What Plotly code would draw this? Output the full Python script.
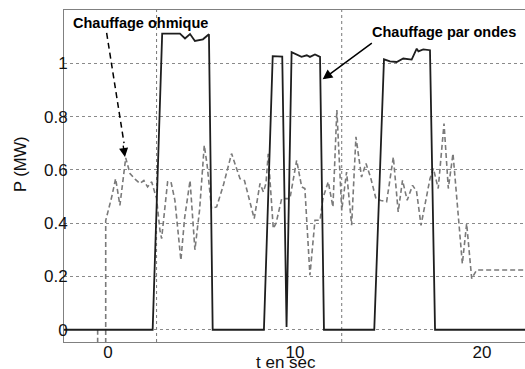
import plotly.graph_objects as go

# ---- data ----
# solid (wave heating power)
t_ondes = [-2.35, 2.39, 2.90, 3.85, 4.12, 4.39, 4.65, 5.08, 5.40, 5.60,
           8.34, 8.81, 9.32, 9.55,
           9.82, 10.35, 10.63, 10.80, 11.07, 11.34, 11.55,
           14.24, 14.76, 15.08, 15.44, 15.79, 16.24, 16.51, 16.60, 16.86, 17.22, 17.49, 22.5]
p_ondes = [0.0, 0.0, 1.111, 1.111, 1.093, 1.110, 1.084, 1.090, 1.109, 0.0,
           0.0, 1.027, 1.025, 0.01,
           1.042, 1.024, 1.030, 1.024, 1.033, 1.024, 0.0,
           0.0, 1.015, 1.007, 1.005, 1.018, 1.014, 1.055, 1.045, 1.052, 1.049, 0.0, 0.0]

# dashed (ohmic heating power)
t_ohm = [-0.55, -0.55, -0.12, -0.12, 0.20, 0.41, 0.64, 0.95, 1.18, 1.45, 1.71, 1.92,
         2.12, 2.34, 2.60, 2.78, 2.87, 2.98, 3.19, 3.37, 3.58, 3.90, 4.10, 4.39,
         4.65, 4.90, 5.15, 5.30, 5.54, 5.81, 6.17, 6.61, 7.06, 7.30, 7.82, 8.13,
         8.31, 8.45, 8.57, 8.84, 8.99, 9.29, 9.73, 10.09, 10.36, 10.53, 10.80, 11.07,
         11.34, 11.51, 11.78, 12.03, 12.24, 12.50, 12.76, 13.03, 13.26, 13.56, 13.80,
         14.05, 14.33, 14.60, 14.90, 15.26, 15.52, 15.75, 16.00, 16.29, 16.50, 16.74,
         17.22, 17.40, 17.66, 17.97, 18.20, 18.45, 18.95, 19.18, 19.45, 19.71, 22.5]
p_ohm = [0.0, -0.1, -0.1, 0.41, 0.498, 0.567, 0.467, 0.645, 0.586, 0.565, 0.549, 0.560,
         0.536, 0.555, 0.492, 0.373, 0.342, 0.420, 0.555, 0.555, 0.486, 0.261, 0.420, 0.560,
         0.300, 0.450, 0.692, 0.620, 0.455, 0.461, 0.542, 0.661, 0.567, 0.560, 0.417, 0.549,
         0.517, 0.549, 0.660, 0.380, 0.400, 0.492, 0.492, 0.636, 0.536, 0.530, 0.205, 0.411,
         0.411, 0.498, 0.555, 0.461, 0.825, 0.448, 0.592, 0.392, 0.724, 0.573, 0.624,
         0.570, 0.492, 0.485, 0.480, 0.648, 0.442, 0.561, 0.486, 0.542, 0.520, 0.392,
         0.567, 0.605, 0.530, 0.774, 0.530, 0.661, 0.248, 0.398, 0.192, 0.224, 0.224]

x_ticks = [0, 10, 20]
x_ticklabels = ["0", "10", "20"]
y_ticks = [0, 0.2, 0.4, 0.6, 0.8, 1.0]
y_ticklabels = ["0", "0.2", "0.4", "0.6", "0.8", "1"]
ref_lines_t = [2.6, 12.5]

FONT = "Arial, Liberation Sans, Helvetica, sans-serif"

fig = go.Figure()
fig.add_trace(go.Scatter(x=t_ohm, y=p_ohm, mode="lines",
                         line=dict(color="#7a7a7a", width=1.6, dash="5px,3px"),
                         showlegend=False, hoverinfo="skip"))
fig.add_trace(go.Scatter(x=t_ondes, y=p_ondes, mode="lines",
                         line=dict(color="#1e1e1e", width=1.8),
                         showlegend=False, hoverinfo="skip"))

shapes = []
for xv in ref_lines_t:
    shapes.append(dict(type="line", xref="x", yref="paper", x0=xv, x1=xv, y0=0, y1=1,
                       line=dict(color="#777", width=1, dash="dot"), layer="below"))
# dashed arrow shaft for "Chauffage ohmique"
shapes.append(dict(type="line", xref="x", yref="y", x0=-0.07, y0=1.114, x1=0.86, y1=0.70,
                   line=dict(color="black", width=1.5, dash="6px,4px")))

annotations = [
    dict(x=-1.99, y=1.151, xref="x", yref="y", text="<b>Chauffage ohmique</b>",
         showarrow=False, xanchor="left", yanchor="middle",
         font=dict(family=FONT, size=14.5, color="black")),
    dict(x=14.01, y=1.118, xref="x", yref="y", text="<b>Chauffage par ondes</b>",
         showarrow=False, xanchor="left", yanchor="middle",
         font=dict(family=FONT, size=14.5, color="black")),
    # arrow head for ohmic
    dict(x=0.91, y=0.648, xref="x", yref="y", text="", showarrow=True,
         ax=-2, ay=-13, arrowhead=2, arrowsize=1.3, arrowwidth=1.4, arrowcolor="black",
         standoff=0),
    # solid arrow for waves
    dict(x=11.48, y=0.94, xref="x", yref="y", text="", showarrow=True,
         axref="x", ayref="y", ax=14.19, ay=1.08,
         arrowhead=2, arrowsize=1.3, arrowwidth=1.5, arrowcolor="black", standoff=0),
    dict(x=-0.0955, y=0.536, xref="paper", yref="paper", text="P (MW)", textangle=-90,
         showarrow=False, xanchor="center", yanchor="middle",
         font=dict(family=FONT, size=16.5, color="#111")),
    dict(x=0.4816, y=-0.061, xref="paper", yref="paper", text="t en sec",
         showarrow=False, xanchor="center", yanchor="middle",
         font=dict(family=FONT, size=17, color="#111")),
]

fig.update_layout(
    width=525, height=369,
    margin=dict(l=64, r=0, t=10, b=27, autoexpand=False),
    paper_bgcolor="white", plot_bgcolor="white",
    font=dict(family=FONT, size=17, color="#111"),
    shapes=shapes, annotations=annotations,
    xaxis=dict(range=[-2.35, 22.3], showgrid=False, zeroline=False,
               showline=True, linecolor="#808080", linewidth=1, mirror=True,
               ticks="", tickvals=x_ticks, ticktext=x_ticklabels,
               ticklabelstandoff=-5,
               tickfont=dict(family=FONT, size=17, color="#111")),
    yaxis=dict(range=[-0.046, 1.2], showgrid=True, gridcolor="#8a8a8a", gridwidth=1,
               griddash="dot", zeroline=False,
               showline=True, linecolor="#808080", linewidth=1, mirror=False,
               ticks="", tickvals=y_ticks, ticktext=y_ticklabels,
               ticklabelstandoff=-8,
               tickfont=dict(family=FONT, size=17, color="#111")),
)

fig.write_html("out.html", config={"displayModeBar": False},
               post_script="document.body.style.margin='0px';")
